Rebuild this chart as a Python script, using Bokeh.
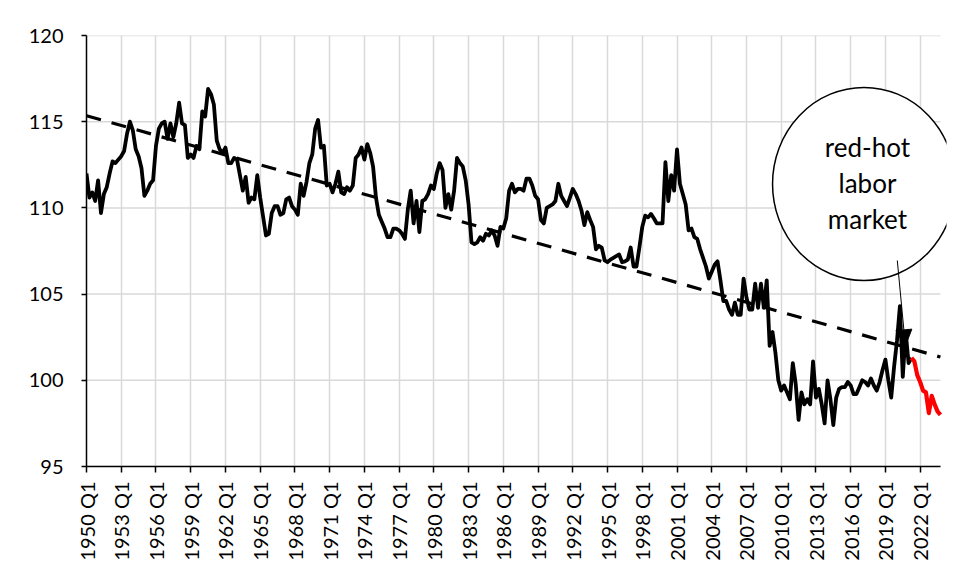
import math
from bokeh.plotting import figure
from bokeh.models import FixedTicker, Arrow, NormalHead, Range1d
from bokeh.core.properties import value
from bokeh.embed import file_html
from bokeh.resources import INLINE

# ---------------- data (quarterly, starting 1950 Q1) ----------------
first_year = 1950
v1950s = [112.0, 110.6, 110.9, 110.4, 111.6, 109.7, 110.8, 111.2, 112.0, 112.7,
          112.6, 112.8, 113.0, 113.3, 114.3, 115.0, 114.5, 113.4, 113.0, 112.3,
          110.7, 111.0, 111.4, 111.6, 113.6, 114.6, 114.9, 115.0, 114.0, 114.9,
          114.1, 114.9, 116.1, 114.9, 114.8, 112.9, 113.1, 112.9, 113.6, 113.4]
v1960s = [115.6, 115.3, 116.9, 116.6, 116.0, 113.9, 113.4, 113.2, 113.5, 112.6,
          112.6, 112.9, 112.8, 111.9, 111.0, 111.8, 110.3, 110.6, 110.5, 111.9,
          110.6, 109.5, 108.4, 108.5, 109.7, 110.1, 110.1, 109.6, 109.7, 110.5,
          110.6, 110.1, 109.9, 109.6, 111.4, 110.7, 111.5, 112.6, 113.1, 114.6]
v1970s = [115.1, 113.5, 113.6, 111.3, 111.4, 110.9, 111.4, 112.1, 110.9, 110.8,
          111.2, 111.0, 111.3, 112.9, 113.1, 113.5, 112.8, 113.7, 113.2, 112.4,
          110.6, 109.6, 109.2, 108.8, 108.3, 108.3, 108.8, 108.8, 108.7, 108.5,
          108.2, 109.9, 111.0, 109.1, 110.4, 108.6, 110.4, 110.5, 110.8, 111.3]
v1980s = [111.1, 112.0, 112.6, 112.2, 110.0, 110.8, 109.9, 111.0, 112.9, 112.6,
          112.4, 111.6, 110.2, 108.0, 107.9, 108.0, 108.3, 108.1, 108.5, 108.4,
          108.7, 108.4, 107.8, 108.9, 108.8, 109.4, 111.0, 111.4, 110.9, 111.1,
          111.1, 111.0, 111.7, 111.7, 111.3, 110.7, 110.5, 109.3, 109.1, 110.0]
v1990s = [110.1, 110.2, 110.4, 111.4, 110.7, 110.4, 110.1, 110.6, 111.1, 110.8,
          110.4, 109.85, 109.0, 109.75, 109.3, 108.9, 107.6, 107.8, 107.7, 106.95,
          106.85, 107.0, 107.1, 107.2, 107.3, 106.85, 106.9, 107.0, 107.7, 106.6,
          106.6, 107.7, 108.9, 109.55, 109.45, 109.65, 109.4, 109.1, 109.1, 109.1]
v2000s = [112.65, 110.4, 111.9, 111.0, 113.4, 111.4, 110.8, 110.2, 108.7, 108.8,
          108.3, 108.2, 107.6, 107.1, 106.6, 105.9, 106.3, 106.7, 106.9, 105.8,
          104.6, 104.6, 104.1, 103.8, 104.5, 103.8, 103.8, 105.9, 104.8, 104.1,
          104.1, 105.6, 104.2, 105.6, 104.2, 105.8, 102.0, 102.8, 101.6, 100.0]
v2010s = [99.4, 99.7, 99.3, 98.9, 101.0, 99.8, 97.7, 99.3, 98.6, 98.9,
          98.6, 101.1, 99.0, 99.5, 98.6, 97.5, 100.0, 98.9, 97.4, 99.0,
          99.5, 99.6, 99.6, 99.9, 99.7, 99.2, 99.2, 99.6, 100.0, 99.9,
          99.7, 100.1, 99.7, 99.4, 99.9, 100.6, 101.2, 100.0, 99.0, 100.8]
v2020s = [102.3, 104.3, 100.2, 102.8, 101.0, 101.3]          # 2020 Q1 .. 2021 Q2
red_values = [101.3, 101.1, 100.3, 99.9, 99.4, 99.3, 98.1, 99.1, 98.6, 98.2, 98.0]  # 2021 Q2 .. 2023 Q4

black_values = v1950s + v1960s + v1970s + v1980s + v1990s + v2000s + v2010s + v2020s
n_quarters = len(black_values) + len(red_values) - 1
quarter_labels = [f"{first_year + i // 4} Q{i % 4 + 1}" for i in range(n_quarters)]

tick_years = list(range(1950, 2023, 3))
tick_labels = [f"{y} Q1" for y in tick_years]
y_ticks = [95, 100, 105, 110, 115, 120]

trend_values = [115.35, 101.35]          # linear trend, first and last quarter

annotation_text = "red-hot\nlabor\nmarket"
circle_center = (268.6, 111.39)
circle_size = (63.2, 11.2)               # in data units (quarters, index points)
text_center = (269.8, 111.44)
arrow_from = (280.1, 106.95)
arrow_to = (282.9, 102.0)

# ---------------- figure ----------------
last_idx = n_quarters - 1
p = figure(width=948, height=569,
           x_range=Range1d(0, last_idx + 2.1), y_range=Range1d(95, 120),
           output_backend="svg", toolbar_location=None,
           min_border_left=86, min_border_top=35, min_border_right=2, min_border_bottom=103)
p.outline_line_color = None
p.background_fill_color = "white"
p.border_fill_color = "white"

FONT = "Lato"
GRID = "#d9d9d9"

# x axis
tick_pos = [(y - first_year) * 4 for y in tick_years]
p.xaxis.ticker = FixedTicker(ticks=tick_pos)
p.xaxis.major_label_overrides = {pos: lab for pos, lab in zip(tick_pos, tick_labels)}
p.xaxis.major_label_orientation = math.pi / 2
p.xaxis.bounds = (0, last_idx)
p.xaxis.minor_tick_line_color = None
p.xaxis.major_tick_in = 0
p.xaxis.major_tick_out = 6
p.xaxis.major_label_standoff = 9
p.xaxis.axis_line_color = "black"
p.xaxis.axis_line_width = 1.5
p.xaxis.major_tick_line_color = "black"
p.xaxis.major_tick_line_width = 1.5
p.xaxis.major_label_text_font = FONT
p.xaxis.major_label_text_font_size = "20px"
p.xaxis.major_label_text_color = "black"

# y axis
p.yaxis.ticker = FixedTicker(ticks=y_ticks)
p.yaxis.minor_tick_line_color = None
p.yaxis.major_tick_in = 0
p.yaxis.major_tick_out = 5
p.yaxis.major_label_standoff = 18
p.yaxis.axis_line_color = "black"
p.yaxis.axis_line_width = 1.5
p.yaxis.major_tick_line_color = "black"
p.yaxis.major_tick_line_width = 1.5
p.yaxis.major_label_text_font = FONT
p.yaxis.major_label_text_font_size = "20px"
p.yaxis.major_label_text_color = "black"

# grids
p.xgrid.grid_line_color = GRID
p.xgrid.grid_line_width = 1.5
p.ygrid.visible = False
p.segment(x0=[0] * len(y_ticks), x1=[last_idx] * len(y_ticks), y0=y_ticks, y1=y_ticks,
          line_color=GRID, line_width=1.5)

# series
black_x = list(range(len(black_values)))
red_x = list(range(len(black_values) - 1, n_quarters))
p.line(black_x, black_values, line_color="black", line_width=3.8, line_join="round")
p.line(red_x, red_values, line_color="#ff0000", line_width=4.2, line_join="round")
p.line([0, last_idx], trend_values, line_color="black", line_width=3.2, line_dash="15 11")

# annotation
p.ellipse(x=[circle_center[0]], y=[circle_center[1]], width=[circle_size[0]], height=[circle_size[1]],
          fill_color="white", line_color="black", line_width=1.5)
p.text(x=[text_center[0]], y=[text_center[1]], text=[annotation_text],
       text_align="center", text_baseline="middle", text_font=value(FONT),
       text_font_size="26px", text_line_height=1.12, text_color="black")
p.add_layout(Arrow(x_start=arrow_from[0], y_start=arrow_from[1], x_end=arrow_to[0], y_end=arrow_to[1],
                   line_color="black", line_width=1,
                   end=NormalHead(size=16, fill_color="black", line_color="black")))

open("out.html", "w").write(file_html(p, INLINE))
